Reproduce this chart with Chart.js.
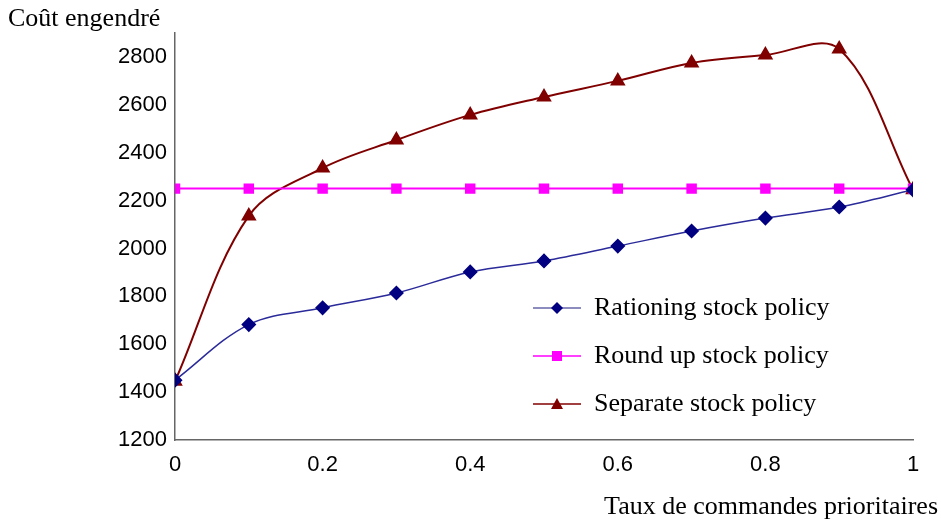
<!DOCTYPE html>
<html>
<head>
<meta charset="utf-8">
<script src="https://cdn.jsdelivr.net/npm/chart.js@4/dist/chart.umd.min.js"></script>
<style>
  html, body { margin: 0; padding: 0; background: #fff; }
  #wrap { width: 941px; height: 521px; }
</style>
</head>
<body>
<div id="wrap"><canvas id="chart" width="941" height="521"></canvas></div>
<script>
// taux de commandes prioritaires
const taux = [0, 0.1, 0.2, 0.3, 0.4, 0.5, 0.6, 0.7, 0.8, 0.9, 1];

const rationing = [1450, 1682, 1752, 1814, 1902, 1948, 2010, 2073, 2127, 2173, 2245];
const roundUp = [2250, 2250, 2250, 2250, 2250, 2250, 2250, 2250, 2250, 2250, 2250];
const separate = [1445, 2136, 2336, 2453, 2558, 2633, 2700, 2775, 2808, 2833, 2245];

const seriesNames = ['Rationing stock policy', 'Round up stock policy', 'Separate stock policy'];
const yTitle = 'Coût engendré';
const xTitle = 'Taux de commandes prioritaires';

const toPoints = (vals) => vals.map((v, i) => ({ x: taux[i], y: v }));

const serif = '"Liberation Serif", "Times New Roman", serif';
const sans = '"Liberation Sans", Arial, sans-serif';

// legend drawn inside the plot, plus the two axis titles
const overlay = {
  id: 'overlay',
  afterDraw(chart) {
    const ctx = chart.ctx;
    ctx.save();
    ctx.fillStyle = '#000';
    ctx.font = '26px ' + serif;
    ctx.textBaseline = 'alphabetic';
    ctx.textAlign = 'left';
    ctx.fillText(yTitle, 8, 26);
    ctx.textAlign = 'right';
    ctx.fillText(xTitle, 938, 514);

    const rows = [308, 356, 404];
    chart.data.datasets.forEach((ds, i) => {
      const y = rows[i];
      ctx.strokeStyle = ds.legendLine || ds.borderColor;
      ctx.lineWidth = 1.5;
      ctx.beginPath();
      ctx.moveTo(533, y);
      ctx.lineTo(581, y);
      ctx.stroke();
      ctx.fillStyle = ds.pointBackgroundColor;
      const cx = 557;
      ctx.beginPath();
      if (ds.pointStyle === 'rectRot') {
        ctx.moveTo(cx, y - 6); ctx.lineTo(cx + 6, y); ctx.lineTo(cx, y + 6); ctx.lineTo(cx - 6, y);
      } else if (ds.pointStyle === 'rect') {
        ctx.rect(cx - 5, y - 5, 10, 10);
      } else {
        ctx.moveTo(cx, y - 6); ctx.lineTo(cx + 6, y + 5); ctx.lineTo(cx - 6, y + 5);
      }
      ctx.closePath();
      ctx.fill();
      ctx.fillStyle = '#000';
      ctx.textAlign = 'left';
      ctx.textBaseline = 'middle';
      ctx.font = '26px ' + serif;
      ctx.fillText(ds.label, 594, y);
    });
    ctx.restore();
  }
};

new Chart(document.getElementById('chart'), {
  type: 'line',
  data: {
    datasets: [
      {
        label: seriesNames[0],
        data: toPoints(rationing),
        borderColor: '#2a2a9a',
        legendLine: '#6666aa',
        borderWidth: 1.5,
        pointStyle: 'rectRot',
        pointRadius: 6.5,
        pointBackgroundColor: '#000080',
        pointBorderColor: '#000080',
        tension: 0.35
      },
      {
        label: seriesNames[1],
        data: toPoints(roundUp),
        borderColor: '#ff00ff',
        borderWidth: 2,
        pointStyle: 'rect',
        pointRadius: 6,
        pointBackgroundColor: '#ff00ff',
        pointBorderColor: '#ff00ff',
        tension: 0
      },
      {
        label: seriesNames[2],
        data: toPoints(separate),
        borderColor: '#800000',
        borderWidth: 2,
        pointStyle: 'triangle',
        pointRadius: 7,
        pointBackgroundColor: '#800000',
        pointBorderColor: '#800000',
        tension: 0.35
      }
    ]
  },
  options: {
    responsive: false,
    animation: false,
    layout: { padding: { top: 33, right: 28, left: 0, bottom: 0 } },
    plugins: {
      legend: { display: false },
      tooltip: { enabled: false }
    },
    scales: {
      x: {
        type: 'linear',
        min: 0,
        max: 1,
        afterFit: (scale) => { scale.height = 81; },
        grid: { display: false, drawTicks: true, tickLength: 6, color: '#555' },
        border: { display: true, color: '#666', width: 1.5 },
        ticks: {
          stepSize: 0.2,
          color: '#000',
          font: { family: sans, size: 22 },
          padding: 6,
          maxRotation: 0,
          callback: (v) => String(Math.round(v * 10) / 10)
        }
      },
      y: {
        min: 1200,
        max: 2900,
        afterFit: (scale) => { scale.width = 175; },
        afterBuildTicks: (scale) => {
          scale.ticks = scale.ticks.filter(t => t.value % 200 === 0);
        },
        grid: { display: false, drawTicks: true, tickLength: 6, color: '#555' },
        border: { display: true, color: '#666', width: 1.5 },
        ticks: {
          stepSize: 100,
          color: '#000',
          font: { family: sans, size: 22 },
          padding: 2,
          callback: (v) => String(v)
        }
      }
    }
  },
  plugins: [overlay]
});
</script>
</body>
</html>
